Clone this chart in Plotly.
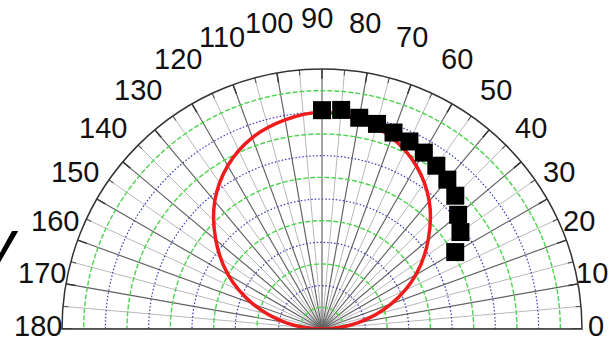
import math
import plotly.graph_objects as go

# ---- data ----
tick_angles = list(range(0, 181, 10))          # angular tick labels (deg)
tick_labels = [str(a) for a in tick_angles]
minor_angles = list(range(5, 180, 10))         # light spokes
green_radii = [1, 3, 5, 7, 9, 11]              # green dashed rings
blue_radii = [2, 4, 6, 8, 10]                  # blue dotted rings
r_max = 12

red_theta = list(range(0, 181, 10))
red_r = [0, 1.7, 3.4, 5.0, 6.4, 7.7, 8.7, 9.4, 9.8, 10.0,
         9.8, 9.4, 8.7, 7.7, 6.4, 5.0, 3.4, 1.7, 0]

sq_theta = [90, 85, 80, 75, 70, 65, 60, 55, 50, 45, 40, 35, 30]
sq_r = [10.1, 10.15, 9.9, 9.8, 9.65, 9.55, 9.4, 9.2, 9.0, 8.7, 8.2, 7.8, 7.1]

ring_theta = list(range(0, 181, 1))

# ---- layout geometry (pixels) ----
W, H = 611, 340
R = 260
cx, cy = 322, 329
# angular labels sit on a slightly flattened ring outside the plot
lab_cx, lab_cy, lab_ax, lab_ay = 317, 326, 279, 308


def rings(radii):
    th, rr = [], []
    for r in radii:
        th += ring_theta + [None]
        rr += [r] * len(ring_theta) + [None]
    return th, rr


def spokes(angles, r0, r1):
    th, rr = [], []
    for a in angles:
        th += [a, a, None]
        rr += [r0, r1, None]
    return th, rr


fig = go.Figure()

th, rr = spokes(minor_angles, 0, r_max)
fig.add_trace(go.Scatterpolar(theta=th, r=rr, mode="lines", hoverinfo="skip",
                              line=dict(color="#b8b8b8", width=1)))
th, rr = spokes(tick_angles, 0, r_max)
fig.add_trace(go.Scatterpolar(theta=th, r=rr, mode="lines", hoverinfo="skip",
                              line=dict(color="#606060", width=1.15)))
th, rr = rings(green_radii)
fig.add_trace(go.Scatterpolar(theta=th, r=rr, mode="lines", hoverinfo="skip",
                              line=dict(color="#4cd44c", width=1.4, dash="5px,2px")))
th, rr = rings(blue_radii)
fig.add_trace(go.Scatterpolar(theta=th, r=rr, mode="lines", hoverinfo="skip",
                              line=dict(color="#3a3ac0", width=1.2, dash="1.5px,2px")))
th, rr = spokes(tick_angles, 11.55, r_max)
fig.add_trace(go.Scatterpolar(theta=th, r=rr, mode="lines", hoverinfo="skip",
                              line=dict(color="#333333", width=1.4)))
th, rr = spokes(minor_angles, 11.75, r_max)
fig.add_trace(go.Scatterpolar(theta=th, r=rr, mode="lines", hoverinfo="skip",
                              line=dict(color="#555555", width=1.1)))

fig.add_trace(go.Scatterpolar(theta=red_theta, r=red_r, mode="lines",
                              line=dict(color="#ee1c1c", width=3.5, shape="spline")))
fig.add_trace(go.Scatterpolar(theta=sq_theta, r=sq_r, mode="markers",
                              marker=dict(symbol="square", size=18, color="black",
                                          line=dict(width=0))))

annotations = []
for a, t in zip(tick_angles, tick_labels):
    rad = math.radians(a)
    annotations.append(dict(
        text=t, xref="paper", yref="paper",
        x=(lab_cx + lab_ax * math.cos(rad)) / W,
        y=(H - (lab_cy - lab_ay * math.sin(rad))) / H,
        xanchor="center", yanchor="middle", showarrow=False,
        font=dict(size=29, family="Liberation Sans, Arial", color="#111111")))

# partial glyph at the left edge of the reference
annotations.append(dict(text="<i>y</i>", xref="paper", yref="paper",
                        x=-23 / W, y=(H - 281) / H, xanchor="left", yanchor="bottom",
                        showarrow=False,
                        font=dict(size=64, family="Liberation Sans, Arial", color="black")))

fig.update_layout(
    width=W, height=H,
    margin=dict(l=0, r=0, t=0, b=0),
    paper_bgcolor="white",
    showlegend=False,
    hovermode=False,
    polar=dict(
        domain=dict(x=[(cx - R) / W, (cx + R) / W],
                    y=[(H - cy) / H, (H - cy + R) / H]),
        sector=[0, 180],
        bgcolor="white",
        radialaxis=dict(range=[0, r_max], showgrid=False, showticklabels=False,
                        showline=False, ticks=""),
        angularaxis=dict(direction="counterclockwise", rotation=0,
                         showgrid=False, showticklabels=False, ticks="",
                         showline=True, linecolor="#333333", linewidth=1.5),
    ),
    annotations=annotations,
)

fig.write_html("out.html", config={"displayModeBar": False},
               post_script="document.body.style.margin='0';")
